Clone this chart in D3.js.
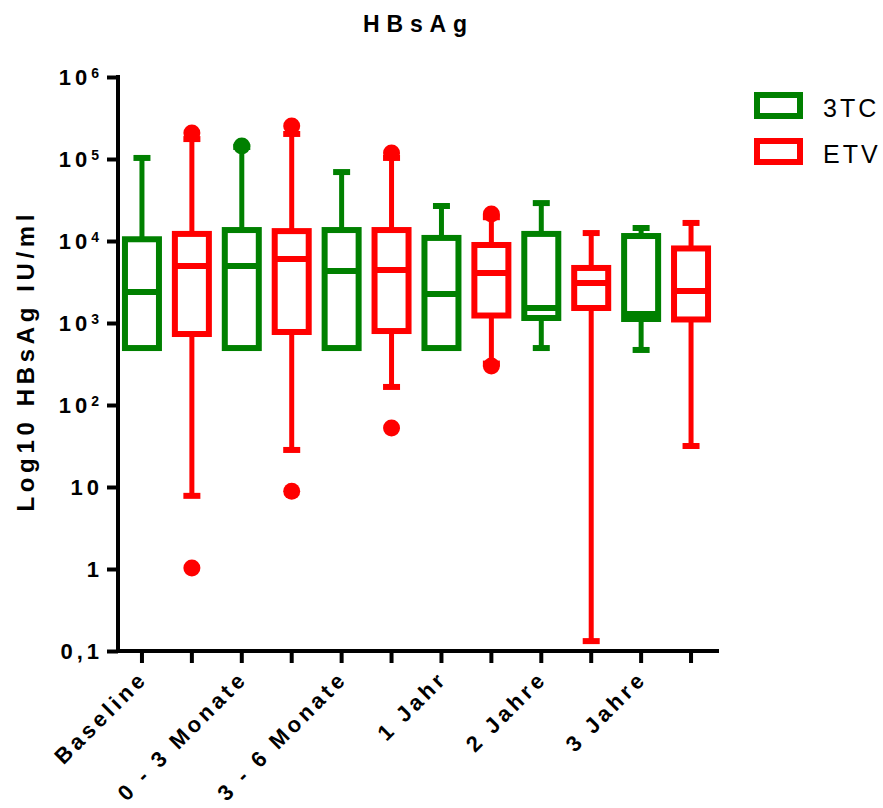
<!DOCTYPE html>
<html>
<head>
<meta charset="utf-8">
<style>
  body { margin: 0; background: white; }
  text { font-family: "Liberation Sans", Arial, sans-serif; fill: black; }
</style>
<script src="https://cdn.jsdelivr.net/npm/d3@7"></script>
</head>
<body>
<script>
// x categories and the two treatment groups
var categories = ["Baseline", "0 - 3 Monate", "3 - 6 Monate", "1 Jahr", "2 Jahre", "3 Jahre"];
var groups = ["3TC", "ETV"];
var colors = ["#008000", "#ff0000"];

// box statistics per category (IU/ml)
var lo3TC  = [495, 495, 495, 495, 495, 469];
var q1_3TC = [495, 495, 495, 495, 1151, 1119];
var med3TC = [2390, 4950, 4300, 2260, 1524, 1288];
var q3_3TC = [10500, 13600, 13600, 10900, 12200, 11500];
var hi3TC  = [103000, 140000, 69300, 26700, 29000, 14400];
var out3TC = [[], [144000], [], [], [], []];

var loETV  = [7.8, 28.3, 166, 320, 0.132, 31.6];
var q1_ETV = [734, 777, 798, 1234, 1524, 1104];
var medETV = [4950, 6030, 4430, 4070, 3070, 2455];
var q3_ETV = [12200, 13200, 13600, 8940, 4690, 8110];
var hiETV  = [175000, 202000, 103000, 19500, 12500, 16600];
var outETV = [[207000, 1.03], [252000, 8.9], [118000, 52.5], [21300, 299], [], []];

// y tick labels
var yTicks   = [0.1, 1, 10, 100, 1e3, 1e4, 1e5, 1e6];
var yTickTxt = ["0,1", "1", "10", "10", "10", "10", "10", "10"];
var yTickExp = ["", "", "", "2", "3", "4", "5", "6"];

var W = 883, H = 808;

var svg = d3.select("body").append("svg")
  .attr("width", W)
  .attr("height", H);

// one box per category and group, 3TC first
var boxes = [];
categories.forEach(function(c, i) {
  boxes.push({ key: c + "|3TC", g: 0, lo: lo3TC[i], q1: q1_3TC[i], med: med3TC[i], q3: q3_3TC[i], hi: hi3TC[i], out: out3TC[i] });
  boxes.push({ key: c + "|ETV", g: 1, lo: loETV[i], q1: q1_ETV[i], med: medETV[i], q3: q3_ETV[i], hi: hiETV[i], out: outETV[i] });
});

var x = d3.scaleBand()
  .domain(boxes.map(function(d) { return d.key; }))
  .range([117, 716]);

var y = d3.scaleLog()
  .domain([0.1, 1e6])
  .range([651, 77]);

var cx = function(d) { return x(d.key) + x.bandwidth() / 2; };

// title
svg.append("text")
  .attr("x", 415).attr("y", 32)
  .attr("text-anchor", "middle")
  .style("font-size", "23px").style("font-weight", "bold")
  .attr("textLength", 104).attr("lengthAdjust", "spacing")
  .text("HBsAg");

// y axis
var yAxis = svg.append("g")
  .attr("transform", "translate(118,0)")
  .call(d3.axisLeft(y).tickValues(yTicks).tickSize(11).tickSizeOuter(0).tickPadding(4).tickFormat(""));

yAxis.selectAll(".tick text").each(function(d, i) {
  var t = d3.select(this)
    .style("font-size", "22px").style("font-weight", "bold")
    .style("letter-spacing", "4px")
    .attr("fill", "black")
    .attr("dy", "0.36em");
  t.append("tspan").text(yTickTxt[i]);
  if (yTickExp[i]) {
    t.append("tspan").attr("dy", "-7").style("font-size", "14px").text(yTickExp[i]);
  }
});

// x axis
var xAxis = svg.append("g")
  .attr("transform", "translate(0,651)")
  .call(d3.axisBottom(x).tickSize(12).tickSizeOuter(0).tickFormat(""));

svg.selectAll(".domain").attr("stroke-width", 4).attr("stroke", "black");
svg.selectAll(".tick line").attr("stroke-width", 4).attr("stroke", "black");
// extend the x axis line to meet the y axis
xAxis.select(".domain").attr("d", "M116,0H719");
yAxis.select(".domain").attr("d", "M0,75V653");

// rotated category labels under the 3TC ticks
var xl = svg.append("g");
categories.forEach(function(c, i) {
  var px = x(c + "|3TC") + x.bandwidth() / 2 + 7;
  xl.append("text")
    .attr("transform", "translate(" + px + ",680) rotate(-45)")
    .attr("text-anchor", "end")
    .style("font-size", "22px").style("font-weight", "bold")
    .style("letter-spacing", "3.8px")
    .text(c);
});

// y label
svg.append("text")
  .attr("transform", "translate(34,363) rotate(-90)")
  .attr("text-anchor", "middle")
  .style("font-size", "24px").style("font-weight", "bold")
  .attr("textLength", 297).attr("lengthAdjust", "spacing")
  .text("Log10 HBsAg IU/ml");

// boxes
var bw = 34, cw = 17;
var bg = svg.append("g").selectAll("g").data(boxes).enter().append("g")
  .attr("stroke", function(d) { return colors[d.g]; })
  .attr("fill", function(d) { return colors[d.g]; });

// whiskers
bg.append("line")
  .attr("x1", cx).attr("x2", cx)
  .attr("y1", function(d) { return y(d.q3); })
  .attr("y2", function(d) { return y(d.hi); })
  .attr("stroke-width", 5);
bg.filter(function(d) { return d.lo < d.q1; }).append("line")
  .attr("x1", cx).attr("x2", cx)
  .attr("y1", function(d) { return y(d.q1); })
  .attr("y2", function(d) { return y(d.lo); })
  .attr("stroke-width", 5);

// caps
bg.append("line")
  .attr("x1", function(d) { return cx(d) - cw / 2; })
  .attr("x2", function(d) { return cx(d) + cw / 2; })
  .attr("y1", function(d) { return y(d.hi); })
  .attr("y2", function(d) { return y(d.hi); })
  .attr("stroke-width", 6);
bg.filter(function(d) { return d.lo < d.q1; }).append("line")
  .attr("x1", function(d) { return cx(d) - cw / 2; })
  .attr("x2", function(d) { return cx(d) + cw / 2; })
  .attr("y1", function(d) { return y(d.lo); })
  .attr("y2", function(d) { return y(d.lo); })
  .attr("stroke-width", 6);

// box
bg.append("rect")
  .attr("x", function(d) { return cx(d) - bw / 2; })
  .attr("width", bw)
  .attr("y", function(d) { return y(d.q3); })
  .attr("height", function(d) { return y(d.q1) - y(d.q3); })
  .attr("fill", "white")
  .attr("stroke-width", 6);

// median
bg.append("line")
  .attr("x1", function(d) { return cx(d) - bw / 2; })
  .attr("x2", function(d) { return cx(d) + bw / 2; })
  .attr("y1", function(d) { return y(d.med); })
  .attr("y2", function(d) { return y(d.med); })
  .attr("stroke-width", 6);

// outliers
bg.selectAll("circle").data(function(d) { return d.out.map(function(v) { return { v: v, d: d }; }); })
  .enter().append("circle")
  .attr("cx", function(o) { return cx(o.d); })
  .attr("cy", function(o) { return y(o.v); })
  .attr("r", 8.5)
  .attr("stroke", "none");

// legend
var lg = svg.append("g").selectAll("g").data(groups).enter().append("g")
  .attr("transform", function(d, i) { return "translate(757," + (95 + i * 46) + ")"; });
lg.append("rect")
  .attr("width", 43).attr("height", 21)
  .attr("fill", "white")
  .attr("stroke", function(d, i) { return colors[i]; })
  .attr("stroke-width", 6);
lg.append("text")
  .attr("x", 66).attr("y", 22)
  .style("font-size", "25px")
  .style("letter-spacing", "3px")
  .text(function(d) { return d; });
</script>
</body>
</html>
